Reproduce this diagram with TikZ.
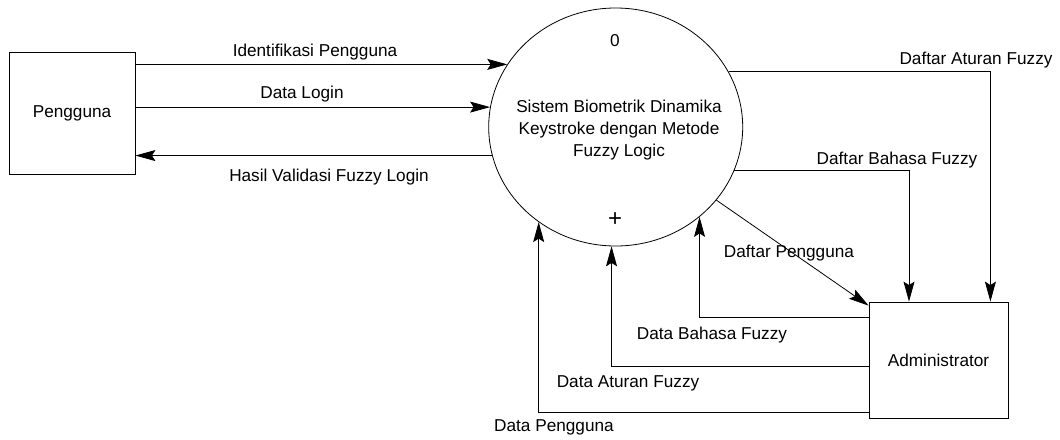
\documentclass[tikz,border=0pt]{standalone}
\usepackage{fontspec}
\setmainfont{Liberation Sans}
\usetikzlibrary{shapes.geometric,arrows.meta}
\begin{document}
\begin{tikzpicture}[x=1pt,y=-1pt,
  font=\fontsize{17.2}{22}\selectfont,
  flow/.style={draw, line width=0.8pt,
    -{Stealth[length=20pt,width=11pt,inset=3.5pt]}},
  entity/.style={draw, line width=0.8pt, rectangle, inner sep=0pt},
  process/.style={draw, line width=0.8pt, ellipse, inner sep=0pt,
    minimum width=254pt, minimum height=238pt},
  lbl/.style={inner sep=0pt, anchor=base}]
\useasboundingbox (0,0) rectangle (1060,439);

% external entities
\node[entity, minimum width=126pt, minimum height=122pt] (pen) at (72,113) {Pengguna};
\node[entity, minimum width=139pt, minimum height=116pt] (adm) at (938.5,360) {Administrator};

% process 0
\node[process] (sys) at (615.7,127) {};
\node[lbl] (sysid) at (615,46) {0};
\node[inner sep=0pt, align=center] (systxt) at (619,130.5)
  {Sistem Biometrik Dinamika\\Keystroke dengan Metode\\Fuzzy Logic};
\node[inner sep=0pt, font=\fontsize{24}{24}\selectfont] (sysplus) at (615,220) {+};

% flows between Pengguna and the process
\draw[flow] (pen.east |- sys.150.77) -- (sys.150.77);
\draw[flow] (pen.east |- sys.171.84) -- (sys.171.84);
\draw[flow] (sys.193.2) -- (pen.east |- sys.193.2);
\node[lbl] (l1) at (315,56) {Identifikasi Pengguna};
\node[lbl] (l2) at (302,98) {Data Login};
\node[lbl] (l3) at (329,181) {Hasil Validasi Fuzzy Login};

% flows from the process to Administrator
\draw[flow] (sys.26.03) -| ([xshift=-18pt]adm.north east);
\draw[flow] (sys.-20.94) -| ([xshift=-29.5pt]adm.north);
\draw[flow] (sys.-36) -- ([yshift=-4pt]adm.north west);
\node[lbl] (l4) at (976,64) {Daftar Aturan Fuzzy};
\node[lbl] (l5) at (897,164) {Daftar Bahasa Fuzzy};
\node[lbl] (l6) at (789,257) {Daftar Pengguna};

% flows from Administrator back to the process
\draw[flow] ([yshift=-16pt]adm.north west) -| (sys.-47.75);
\draw[flow] ([yshift=-65pt]adm.north west) -| (sys.268.2);
\draw[flow] ([yshift=6pt]adm.south west) -| (sys.-129.54);
\node[lbl] (l7) at (712,339) {Data Bahasa Fuzzy};
\node[lbl] (l8) at (628,387) {Data Aturan Fuzzy};
\node[lbl] (l9) at (554,431) {Data Pengguna};
\end{tikzpicture}
\end{document}
